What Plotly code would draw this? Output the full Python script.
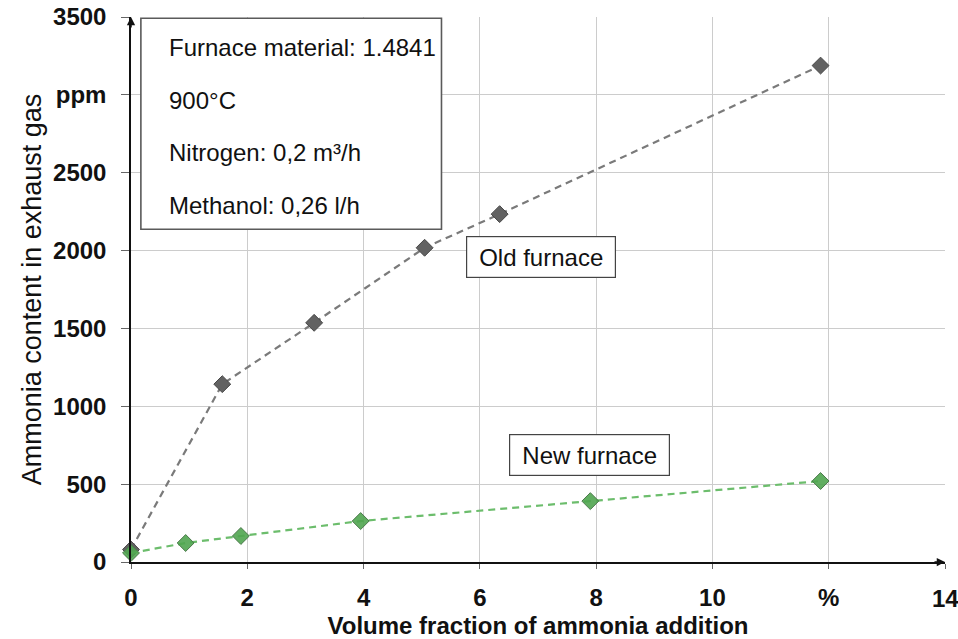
import plotly.graph_objects as go

# ---- data ----
old_x = [0.0, 1.57, 3.15, 5.05, 6.34, 11.86]
old_y = [80, 1142, 1536, 2018, 2234, 3188]
new_x = [0.0, 0.94, 1.89, 3.95, 7.90, 11.86]
new_y = [58, 122, 167, 263, 391, 520]

x_tickvals = [0, 2, 4, 6, 8, 10, 12, 14]
x_ticktext = ["0", "2", "4", "6", "8", "10", "%", "14"]
y_tickvals = [0, 500, 1000, 1500, 2000, 2500, 3000, 3500]
y_ticktext = ["0", "500", "1000", "1500", "2000", "2500", "ppm", "3500"]

info_lines = ["Furnace material: 1.4841", "900°C", "Nitrogen: 0,2 m³/h", "Methanol: 0,26 l/h"]
info_y = [3306, 2965, 2632, 2291]

FONT = "Liberation Sans, Arial, sans-serif"

fig = go.Figure()
fig.add_trace(go.Scatter(
    x=old_x, y=old_y, mode="lines+markers", name="Old furnace",
    line=dict(color="#7a7a7a", width=2.2, dash="7px,5px"),
    marker=dict(symbol="diamond", size=13, color="#626262",
                line=dict(color="#474747", width=1)),
    cliponaxis=False, showlegend=False))
fig.add_trace(go.Scatter(
    x=new_x, y=new_y, mode="lines+markers", name="New furnace",
    line=dict(color="#6cbd6c", width=2.2, dash="7px,5px"),
    marker=dict(symbol="diamond", size=13, color="rgba(80,165,80,0.9)",
                line=dict(color="#4c7a4c", width=1)),
    cliponaxis=False, showlegend=False))

# info box
fig.add_shape(type="rect", xref="x", yref="y", x0=0.17, x1=5.34, y0=2137, y1=3492,
              line=dict(color="#5a5a5a", width=1.6), fillcolor="white", layer="above")
for t, yy in zip(info_lines, info_y):
    fig.add_annotation(x=0.62, y=yy, xref="x", yref="y", text=t, showarrow=False,
                       xanchor="left", yanchor="middle",
                       font=dict(family=FONT, size=24, color="#111"))

# series labels
fig.add_annotation(x=7.06, y=1961, xref="x", yref="y", text="Old furnace", showarrow=False,
                   font=dict(family=FONT, size=24, color="#111"), bgcolor="white",
                   bordercolor="#444", borderwidth=1.2, borderpad=4, width=140, height=32)
fig.add_annotation(x=7.88, y=690, xref="x", yref="y", text="New furnace", showarrow=False,
                   font=dict(family=FONT, size=24, color="#111"), bgcolor="white",
                   bordercolor="#444", borderwidth=1.2, borderpad=4, width=151, height=32)

# axis arrows
fig.add_annotation(x=14, y=0, xref="x", yref="y", ax=-12, ay=0, showarrow=True,
                   arrowhead=2, arrowsize=1.1, arrowwidth=1.5, arrowcolor="#111", text="")
fig.add_annotation(x=0, y=3500, xref="x", yref="y", ax=0, ay=12, showarrow=True,
                   arrowhead=2, arrowsize=1.1, arrowwidth=1.5, arrowcolor="#111", text="")

# last x tick label (drawn as text so it is not dropped at the page edge)
fig.add_annotation(x=x_tickvals[-1], y=0, xref="x", yref="y", text=x_ticktext[-1],
                   showarrow=False, xanchor="center", yanchor="middle", yshift=-36,
                   font=dict(family=FONT, size=24, color="#111", weight="bold"))

fig.update_xaxes(range=[0, 14], tickvals=x_tickvals, ticktext=x_ticktext[:-1] + [""],
                 automargin=False,
                 showgrid=True, gridcolor="#cccccc", gridwidth=1,
                 showline=True, linecolor="#111", linewidth=1.5, zeroline=False,
                 ticks="outside", ticklen=5, tickcolor="#666",
                 ticklabelstandoff=8,
                 tickfont=dict(family=FONT, size=24, color="#111", weight="bold"),
                 title=dict(text="Volume fraction of ammonia addition", standoff=10,
                            font=dict(family=FONT, size=24, color="#111", weight="bold")))
fig.update_yaxes(range=[0, 3500], tickvals=y_tickvals, ticktext=y_ticktext, automargin=False,
                 showgrid=True, gridcolor="#cccccc", gridwidth=1,
                 showline=True, linecolor="#111", linewidth=1.5, zeroline=False,
                 ticks="outside", ticklen=8, tickcolor="#666",
                 ticklabelstandoff=10,
                 tickfont=dict(family=FONT, size=24, color="#111", weight="bold"),
                 title=dict(text="Ammonia content in exhaust gas", standoff=4,
                            font=dict(family=FONT, size=27, color="#111")))

fig.update_layout(width=958, height=639, margin=dict(l=131, r=13, t=17, b=77),
                  plot_bgcolor="white", paper_bgcolor="white")

fig.write_html("out.html")
